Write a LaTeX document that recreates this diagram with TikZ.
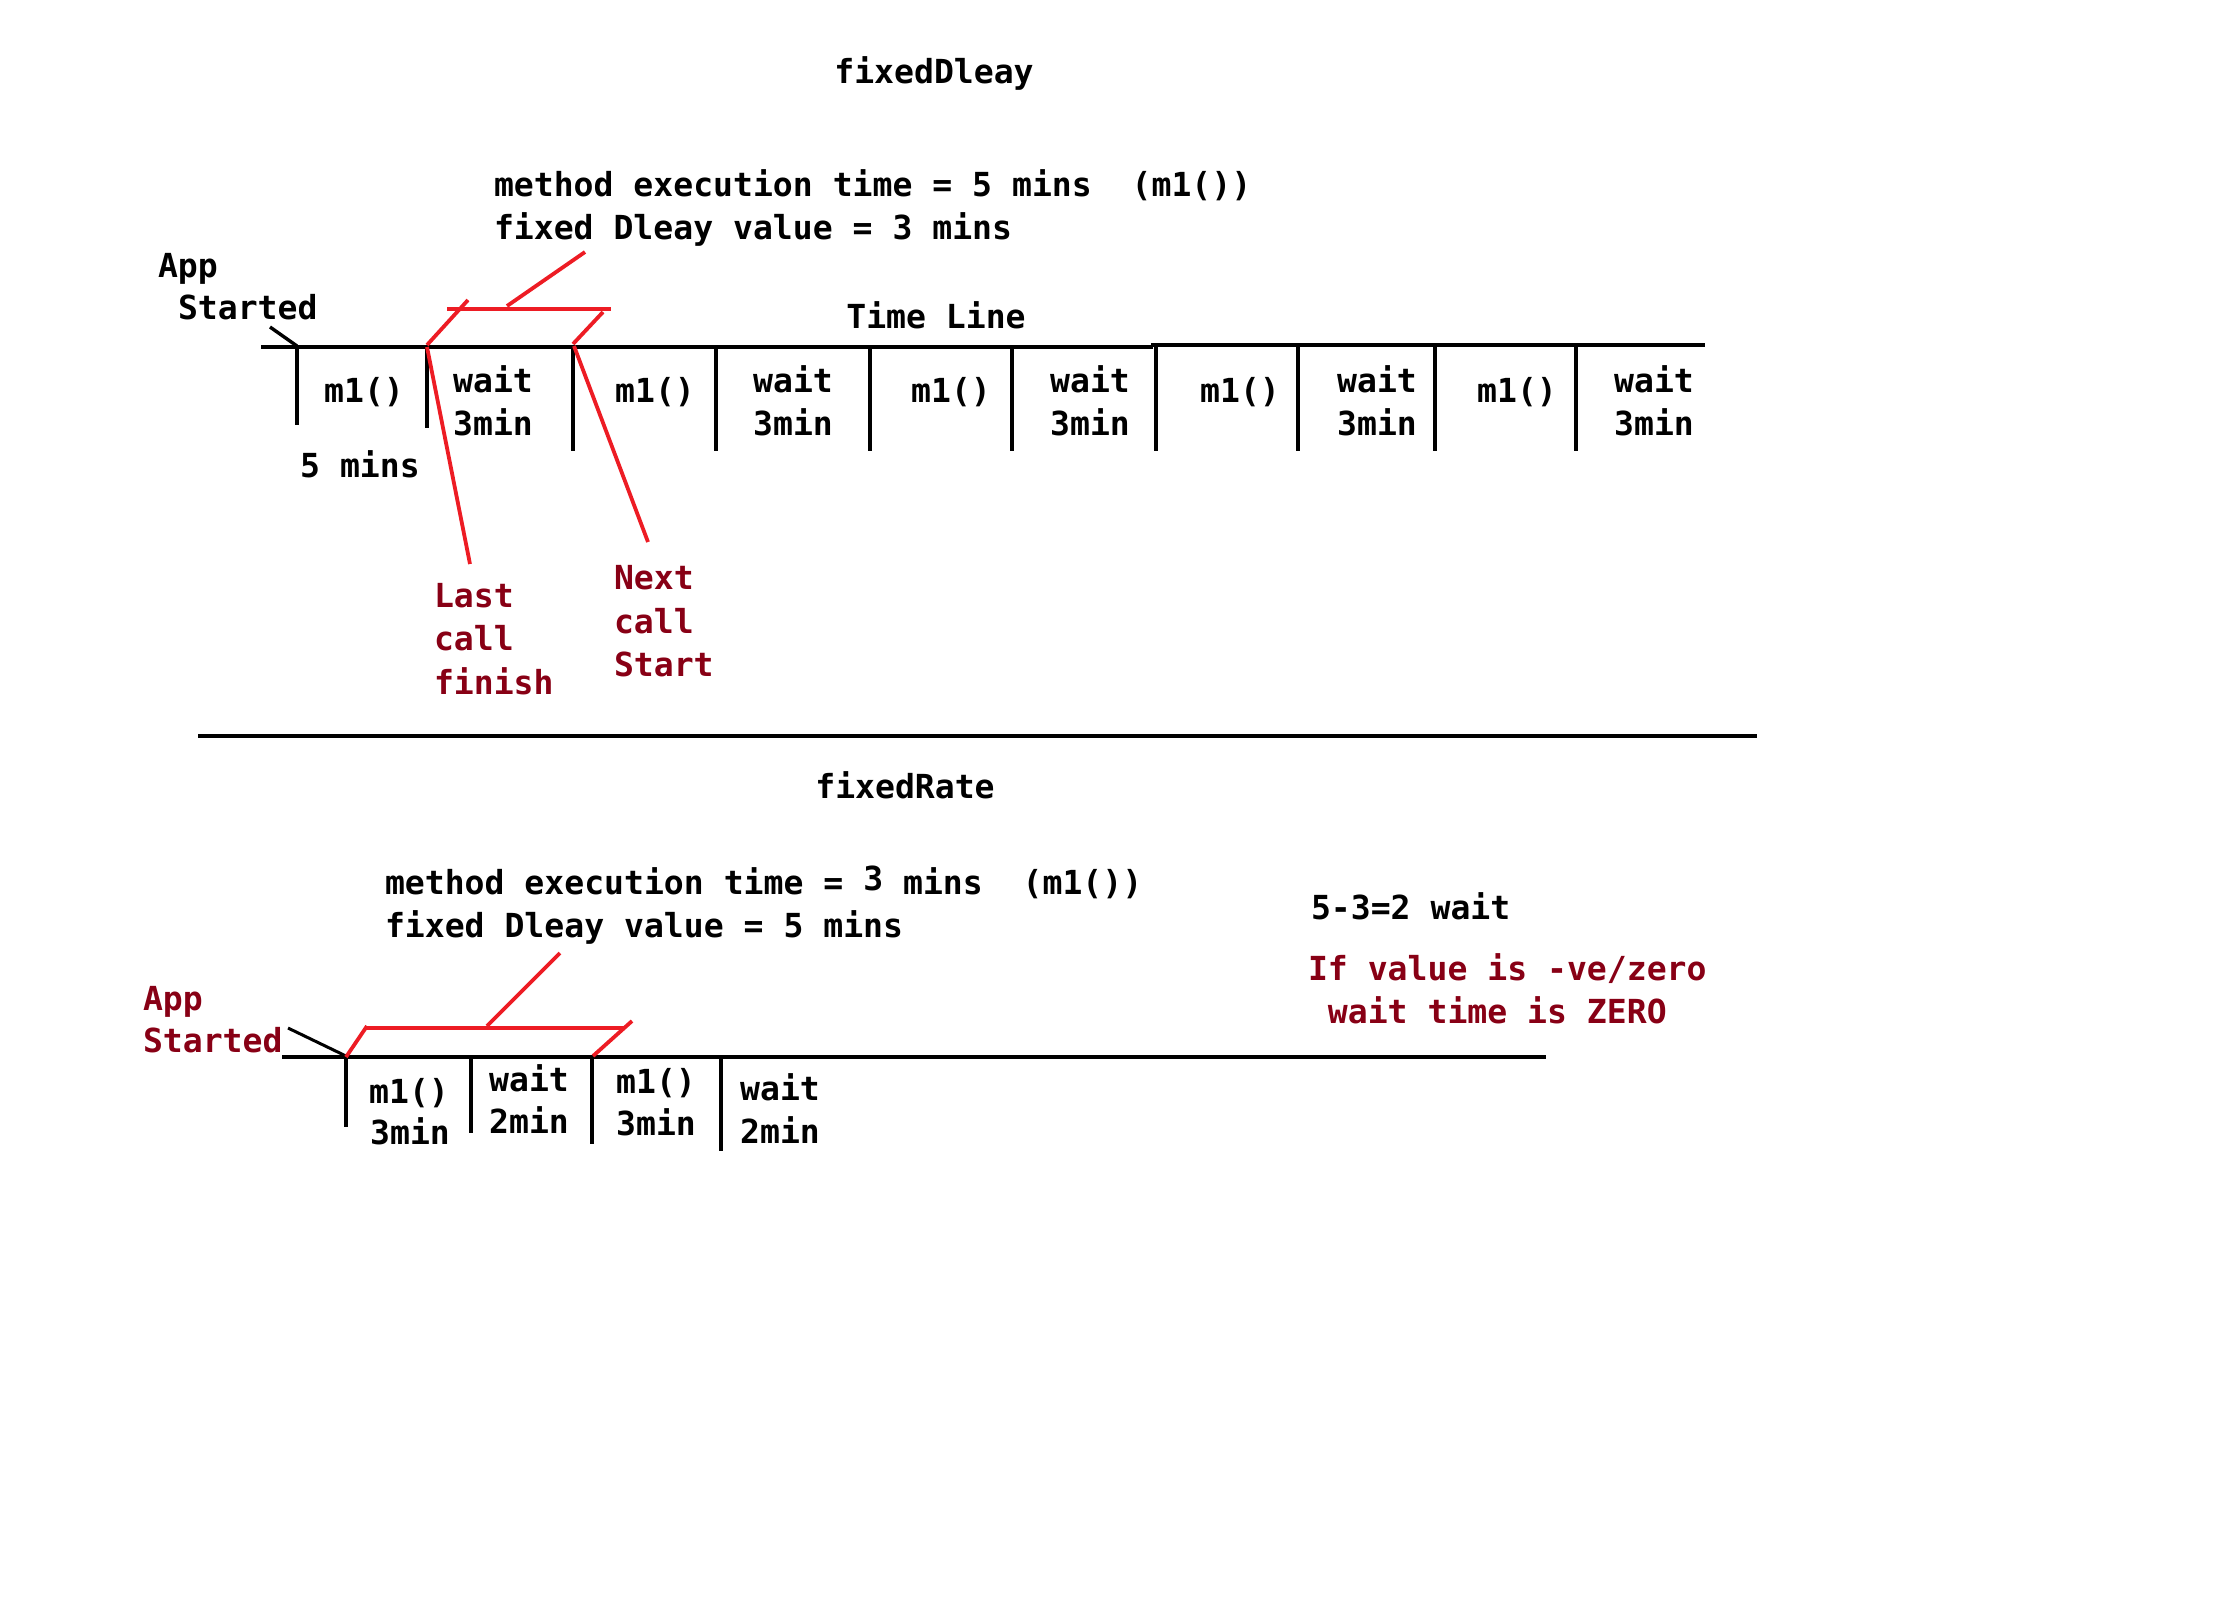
\documentclass[tikz,border=0pt]{standalone}
\usepackage{fontspec}
\newfontfamily\consfont{DejaVu Sans Mono}
\definecolor{pred}{RGB}{237,28,36}
\definecolor{dred}{RGB}{136,0,21}
\begin{document}
\begin{tikzpicture}[x=0.5pt,y=-0.5pt,
  txt/.style={font=\consfont\bfseries\fontsize{16.55}{20}\selectfont, inner sep=0pt, outer sep=0pt},
  lt/.style={txt, anchor=mid west},
  ct/.style={txt, anchor=mid},
  rd/.style={text=dred},
  tline/.style={line width=2.1pt},
  tk/.style={line width=1.7pt},
  btk/.style={line width=1.6pt},
  rl/.style={draw=pred, line width=1.9pt},
  rlthick/.style={draw=pred, line width=2.1pt}]
\useasboundingbox (0,0) rectangle (2214,1614);

% ---------------- fixedDleay ----------------
\node[ct] (t1) at (934,79) {fixedDleay};
\node[lt] (d1) at (494,192) {method execution time = 5 mins~~(m1())};
\node[lt] (d2) at (494,235) {fixed Dleay value = 3 mins};
\node[lt] (app1) at (158,273) {App};
\node[lt] (st1) at (178,315) {Started};
\node[ct] (tl1) at (936,324) {Time Line};
\node[ct] (f5) at (360,473) {5 mins};

% timeline
\coordinate (ta) at (261,347);
\coordinate (tb) at (1153,347);
\coordinate (tc) at (1151,345);
\coordinate (td) at (1705,345);
\draw[tline] (ta) -- (tb);
\draw[tline] (tc) -- (td);
\coordinate (sa) at (270,327);
\coordinate (sb) at (297,346);
\draw[tk] (sa) -- (sb);

% ticks
\coordinate (k1a) at (297,346); \coordinate (k1b) at (297,425);
\coordinate (k2a) at (427,346); \coordinate (k2b) at (427,428);
\draw[tk] (k1a) -- (k1b);
\draw[tk] (k2a) -- (k2b);
\foreach \xx [count=\i] in {573,716,870,1012,1156,1298,1435,1576}{
  \coordinate (kt\i) at (\xx,345);
  \coordinate (kb\i) at (\xx,451);
  \draw[tk] (kt\i) -- (kb\i);
}

% box labels
\foreach \xx [count=\i] in {364,655,951,1240,1517}{
  \node[ct] (m\i) at (\xx,398) {m1()};
}
\foreach \xx [count=\i] in {493,793,1090,1377,1654}{
  \node[ct] (wa\i) at (\xx,388) {wait};
  \node[ct] (wb\i) at (\xx,431) {3min};
}

% red annotations
\coordinate (r1) at (427,345); \coordinate (r2) at (468,300);
\coordinate (r3) at (447,309); \coordinate (r4) at (611,309);
\coordinate (r5) at (603,312); \coordinate (r6) at (573,344);
\coordinate (r7) at (507,306); \coordinate (r8) at (585,252);
\coordinate (r1b) at (427,347); \coordinate (r9) at (470,564);
\coordinate (r10) at (574,346); \coordinate (r11) at (648,542);
\draw[rl] (r1) -- (r2);
\draw[rl] (r3) -- (r4);
\draw[rl] (r5) -- (r6);
\draw[rl] (r7) -- (r8);
\draw[rl] (r1b) -- (r9);
\draw[rl] (r10) -- (r11);

\node[lt,rd] (la) at (434,603) {Last};
\node[lt,rd] (lb) at (434,646) {call};
\node[lt,rd] (lc) at (434,690) {finish};
\node[lt,rd] (na) at (614,585) {Next};
\node[lt,rd] (nb) at (614,629) {call};
\node[lt,rd] (nc) at (614,672) {Start};

% separator
\coordinate (spa) at (198,736);
\coordinate (spb) at (1757,736);
\draw[line width=2.4pt] (spa) -- (spb);

% ---------------- fixedRate ----------------
\node[ct] (t2) at (905,794) {fixedRate};
\node[lt] (e1) at (385,890) {method execution time = \raisebox{2pt}{3} mins~~(m1())};
\node[lt] (e2) at (385,933) {fixed Dleay value = 5 mins};
\node[lt] (w1) at (1311,915) {5-3=2 wait};
\node[lt,rd] (i1) at (1308,976) {If value is -ve/zero};
\node[lt,rd] (i2) at (1308,1019) {~wait time is ZERO};
\node[lt,rd] (app2) at (143,1006) {App};
\node[lt,rd] (st2) at (143,1048) {Started};

\coordinate (ba) at (282,1057);
\coordinate (bb) at (1546,1057);
\draw[line width=2pt] (ba) -- (bb);
\coordinate (bsa) at (288,1028);
\coordinate (bsb) at (346,1056);
\draw[line width=1.5pt] (bsa) -- (bsb);

\coordinate (q1a) at (346,1057); \coordinate (q1b) at (346,1127);
\coordinate (q2a) at (471,1056); \coordinate (q2b) at (471,1133);
\coordinate (q3a) at (592,1056); \coordinate (q3b) at (592,1144);
\coordinate (q4a) at (721,1058); \coordinate (q4b) at (721,1151);
\draw[btk] (q1a) -- (q1b);
\draw[btk] (q2a) -- (q2b);
\draw[btk] (q3a) -- (q3b);
\draw[btk] (q4a) -- (q4b);

\node[ct] (bm1) at (409,1099) {m1()};
\node[ct] (bm1b) at (410,1140) {3min};
\node[ct] (bw1) at (529,1087) {wait};
\node[ct] (bw1b) at (529,1129) {2min};
\node[ct] (bm2) at (656,1089) {m1()};
\node[ct] (bm2b) at (656,1131) {3min};
\node[ct] (bw2) at (780,1096) {wait};
\node[ct] (bw2b) at (780,1139) {2min};

\coordinate (g1) at (346,1057); \coordinate (g2) at (367,1026);
\coordinate (g3) at (367,1028); \coordinate (g4) at (625,1028);
\coordinate (g5) at (632,1021); \coordinate (g6) at (593,1056);
\coordinate (g7) at (487,1026); \coordinate (g8) at (560,953);
\draw[rl] (g1) -- (g2);
\draw[rlthick] (g3) -- (g4);
\draw[rl] (g5) -- (g6);
\draw[rl] (g7) -- (g8);
\end{tikzpicture}
\end{document}
